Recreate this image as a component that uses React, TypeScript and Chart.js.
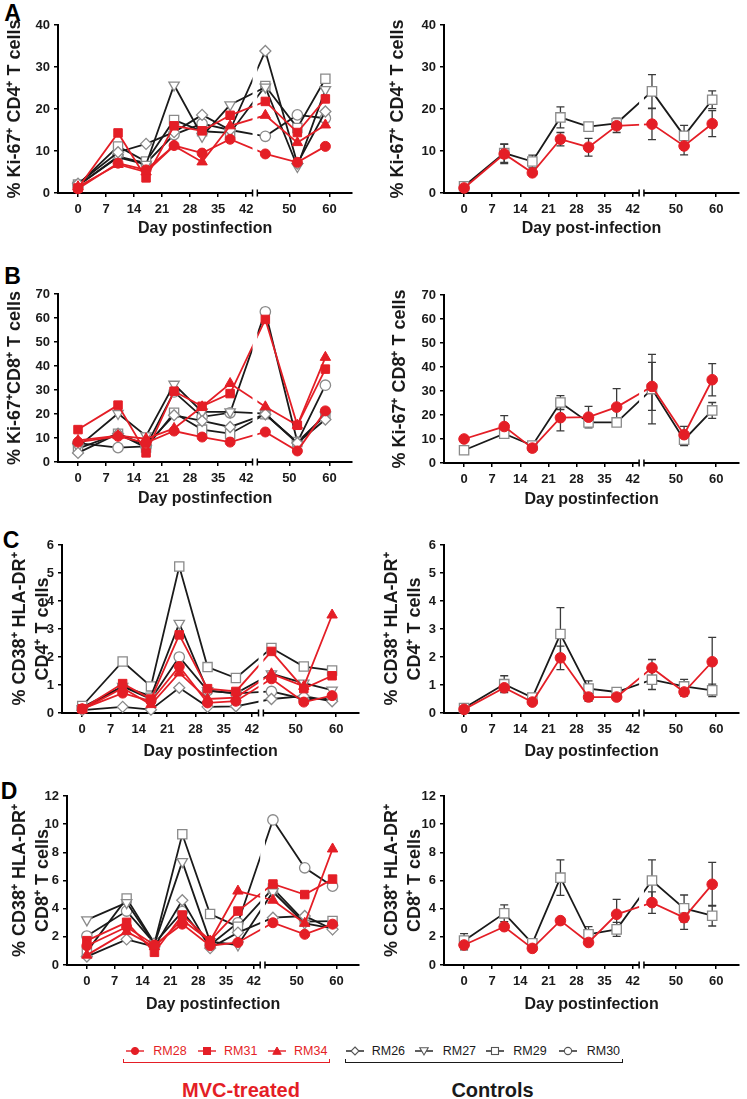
import React, { useEffect, useRef } from 'react';
import { Chart, registerables } from 'chart.js';

Chart.register(...registerables);

const FONT = "'Liberation Sans', Arial, Helvetica, sans-serif";
Chart.defaults.font.family = FONT;

const RED = '#e41e26';
const BLACK = '#1a1a1a';
const OPEN = '#8a8a8a';

// ---------------- data ----------------
const days = [0, 10, 17, 24, 31, 38, 44, 52, 59];
const xTickDays = [0, 7, 14, 21, 28, 35, 42, 50, 60];
const xTickLabels = ['0', '7', '14', '21', '28', '35', '42', '50', '60'];

// Panel A: % Ki-67+ CD4+ T cells
const aRM28 = [1.0, 7.1, 5.5, 11.3, 9.5, 12.8, 9.3, 7.3, 11.1];
const aRM31 = [1.2, 14.3, 3.6, 16.0, 14.8, 18.5, 21.8, 14.4, 22.4];
const aRM34 = [1.5, 6.8, 5.0, 11.2, 7.4, 16.0, 18.5, 12.0, 16.2];
const aRM26 = [2.2, 9.7, 11.7, 14.5, 18.6, 15.0, 33.8, 7.0, 19.4];
const aRM27 = [1.8, 8.5, 6.8, 25.7, 13.5, 21.0, 25.2, 6.3, 24.6];
const aRM29 = [2.0, 11.1, 7.5, 17.4, 14.7, 14.3, 25.5, 15.5, 27.2];
const aRM30 = [1.8, 8.7, 7.1, 13.9, 16.5, 15.0, 13.5, 18.6, 17.8];
const aMvcMean = [1.2, 9.3, 4.8, 12.8, 10.9, 16.0, 16.4, 11.2, 16.5];
const aMvcSem = [0.3, 2.3, 0.6, 1.6, 2.1, 1.6, 3.7, 2.1, 3.1];
const aCtrlMean = [1.6, 9.5, 7.5, 18.0, 15.8, 16.6, 24.2, 13.6, 22.2];
const aCtrlSem = [0.3, 2.2, 1.5, 2.5, 0.6, 1.2, 4.0, 2.5, 2.1];

// Panel B: % Ki-67+ CD8+ T cells
const bRM28 = [8.3, 10.7, 8.0, 12.9, 10.4, 8.3, 12.5, 4.6, 21.3];
const bRM31 = [13.5, 23.7, 3.8, 29.5, 23.2, 28.5, 59.4, 15.3, 38.7];
const bRM34 = [9.0, 11.0, 9.7, 14.0, 23.0, 32.7, 23.0, 15.3, 43.6];
const bRM26 = [3.8, 11.8, 7.0, 19.5, 17.1, 14.6, 19.9, 7.9, 17.7];
const bRM27 = [6.3, 20.2, 10.9, 32.4, 20.9, 20.9, 20.2, 7.9, 19.5];
const bRM29 = [5.6, 11.8, 6.0, 20.5, 13.5, 11.8, 19.9, 8.3, 19.5];
const bRM30 = [7.9, 6.0, 6.5, 29.2, 18.8, 20.5, 62.6, 8.3, 32.0];
const bMvcMean = [10.0, 15.2, 6.2, 18.9, 19.1, 23.3, 31.9, 11.8, 34.7];
const bMvcSem = [0.8, 4.5, 1.5, 5.5, 4.5, 7.7, 10.0, 3.5, 6.7];
const bCtrlMean = [5.3, 12.2, 7.3, 25.2, 16.9, 16.9, 30.8, 9.7, 21.9];
const bCtrlSem = [0.6, 1.5, 1.0, 2.9, 1.0, 1.2, 14.5, 2.5, 3.3];

// Panel C: % CD38+ HLA-DR+ CD4+ T cells
const cRM28 = [0.15, 0.71, 0.42, 1.66, 0.36, 0.42, 1.22, 0.39, 0.62];
const cRM31 = [0.15, 1.05, 0.5, 2.79, 0.87, 0.77, 2.2, 0.87, 1.33];
const cRM34 = [0.12, 0.89, 0.3, 1.43, 0.5, 0.55, 1.4, 0.95, 3.5];
const cRM26 = [0.1, 0.22, 0.12, 0.9, 0.22, 0.24, 0.5, 0.6, 0.42];
const cRM27 = [0.15, 0.95, 0.6, 3.2, 0.8, 0.7, 1.4, 1.07, 0.82];
const cRM29 = [0.25, 1.84, 0.95, 5.23, 1.64, 1.25, 2.32, 1.66, 1.52];
const cRM30 = [0.2, 0.95, 0.5, 2.0, 0.8, 0.7, 0.77, 0.5, 0.5];
const cMvcMean = [0.13, 0.9, 0.39, 1.97, 0.57, 0.57, 1.61, 0.75, 1.83];
const cMvcSem = [0.02, 0.1, 0.05, 0.42, 0.15, 0.1, 0.3, 0.15, 0.87];
const cCtrlMean = [0.18, 1.03, 0.55, 2.82, 0.87, 0.75, 1.19, 0.95, 0.81];
const cCtrlSem = [0.05, 0.3, 0.1, 0.94, 0.28, 0.15, 0.35, 0.25, 0.22];

// Panel D: % CD38+ HLA-DR+ CD8+ T cells
const dRM28 = [1.37, 2.7, 1.42, 2.9, 1.37, 1.6, 3.0, 2.18, 2.9];
const dRM31 = [1.73, 3.03, 0.9, 3.55, 1.73, 3.83, 5.75, 5.0, 6.1];
const dRM34 = [0.7, 2.37, 1.3, 3.2, 1.7, 5.25, 4.6, 2.96, 8.24];
const dRM26 = [0.6, 1.82, 1.3, 4.6, 1.2, 2.3, 3.36, 3.48, 2.53];
const dRM27 = [3.2, 4.43, 1.5, 7.34, 1.66, 1.42, 5.2, 2.96, 2.6];
const dRM29 = [0.95, 4.73, 1.54, 9.28, 3.62, 2.72, 5.44, 3.08, 3.12];
const dRM30 = [2.06, 3.83, 1.54, 3.79, 1.42, 3.0, 10.3, 6.9, 5.6];
const dMvcMean = [1.42, 2.72, 1.18, 3.15, 1.6, 3.6, 4.43, 3.36, 5.73];
const dMvcSem = [0.35, 0.1, 0.1, 0.1, 0.1, 1.06, 0.76, 0.83, 1.55];
const dCtrlMean = [1.73, 3.67, 1.54, 6.2, 2.18, 2.53, 6.0, 4.02, 3.5];
const dCtrlSem = [0.5, 0.6, 0.2, 1.26, 0.54, 0.5, 1.46, 0.95, 0.73];

const mvcAnimals = ['RM28', 'RM31', 'RM34'];
const controlAnimals = ['RM26', 'RM27', 'RM29', 'RM30'];

// ---------------- broken x axis ----------------
const BREAK_AT = 42;
const BREAK_SHIFT = 2.8;
const BREAK_L = 43.6;
const BREAK_R = 44.8;
const X_MIN = -5.0;
const X_MAX = 68.5;
const toAxis = (d: number) => (d > BREAK_AT ? d + BREAK_SHIFT : d);

// ---------------- styles ----------------
type Sty = { ps: string; r: number; rot: number; fill: string; stroke: string; bw: number; line: string };
const STYLES: Record<string, Sty> = {
  RM28: { ps: 'circle', r: 5, rot: 0, fill: RED, stroke: RED, bw: 1, line: RED },
  RM31: { ps: 'rect', r: 6, rot: 0, fill: RED, stroke: RED, bw: 1, line: RED },
  RM34: { ps: 'triangle', r: 6, rot: 0, fill: RED, stroke: RED, bw: 1, line: RED },
  RM26: { ps: 'rectRot', r: 5.5, rot: 0, fill: '#ffffff', stroke: OPEN, bw: 1.3, line: BLACK },
  RM27: { ps: 'triangle', r: 6, rot: 180, fill: '#ffffff', stroke: OPEN, bw: 1.3, line: BLACK },
  RM29: { ps: 'rect', r: 6.5, rot: 0, fill: '#ffffff', stroke: OPEN, bw: 1.3, line: BLACK },
  RM30: { ps: 'circle', r: 5.2, rot: 0, fill: '#ffffff', stroke: OPEN, bw: 1.3, line: BLACK },
  mvc: { ps: 'circle', r: 5.3, rot: 0, fill: RED, stroke: RED, bw: 1, line: RED },
  ctrl: { ps: 'rect', r: 6.6, rot: 0, fill: '#ffffff', stroke: OPEN, bw: 1.3, line: BLACK },
};

type Series = { label: string; style: string; values: number[]; errors?: number[] };

const individual = (...vals: number[][]): Series[] =>
  [...mvcAnimals, ...controlAnimals].map((name, i) => ({ label: name, style: name, values: vals[i] }));

const means = (mvc: number[], mvcE: number[], ctrl: number[], ctrlE: number[]): Series[] => [
  { label: 'MVC-treated', style: 'mvc', values: mvc, errors: mvcE },
  { label: 'Controls', style: 'ctrl', values: ctrl, errors: ctrlE },
];

type PanelDef = {
  id: string; base: number; axisX: number; right: number; top: number; bottom: number;
  yMax: number; yStep: number; yTitle: string[]; yTitlePad: number; xTitle: string; xTitleOffset: number;
  series: Series[];
};

const PAD_TOP = 12;
const PAD_RIGHT = 5;
const X_AXIS_H = 56;

const panels: PanelDef[] = [
  { id: 'A-left', base: 0, axisX: 58, right: 355, top: 25, bottom: 193, yMax: 40, yStep: 10,
    yTitle: ['% Ki-67⁺ CD4⁺ T cells'], yTitlePad: 3.3, xTitle: 'Day postinfection', xTitleOffset: 36,
    series: individual(aRM28, aRM31, aRM34, aRM26, aRM27, aRM29, aRM30) },
  { id: 'A-right', base: 370, axisX: 444, right: 742, top: 25, bottom: 193, yMax: 40, yStep: 10,
    yTitle: ['% Ki-67⁺ CD4⁺ T cells'], yTitlePad: 16.6, xTitle: 'Day post-infection', xTitleOffset: 36,
    series: means(aMvcMean, aMvcSem, aCtrlMean, aCtrlSem) },
  { id: 'B-left', base: 0, axisX: 58, right: 355, top: 294, bottom: 462, yMax: 70, yStep: 10,
    yTitle: ['% Ki-67⁺CD8⁺ T cells'], yTitlePad: 3.3, xTitle: 'Day postinfection', xTitleOffset: 37,
    series: individual(bRM28, bRM31, bRM34, bRM26, bRM27, bRM29, bRM30) },
  { id: 'B-right', base: 370, axisX: 444, right: 742, top: 295, bottom: 463, yMax: 70, yStep: 10,
    yTitle: ['% Ki-67⁺ CD8⁺ T cells'], yTitlePad: 18.3, xTitle: 'Day postinfection', xTitleOffset: 37,
    series: means(bMvcMean, bMvcSem, bCtrlMean, bCtrlSem) },
  { id: 'C-left', base: 0, axisX: 62, right: 362, top: 545, bottom: 713, yMax: 6, yStep: 1,
    yTitle: ['% CD38⁺ HLA-DR⁺', 'CD4⁺ T cells'], yTitlePad: 8.3, xTitle: 'Day postinfection', xTitleOffset: 38.5,
    series: individual(cRM28, cRM31, cRM34, cRM26, cRM27, cRM29, cRM30) },
  { id: 'C-right', base: 370, axisX: 444, right: 742, top: 545, bottom: 713, yMax: 6, yStep: 1,
    yTitle: ['% CD38⁺ HLA-DR⁺', 'CD4⁺ T cells'], yTitlePad: 10, xTitle: 'Day postinfection', xTitleOffset: 38.5,
    series: means(cMvcMean, cMvcSem, cCtrlMean, cCtrlSem) },
  { id: 'D-left', base: 0, axisX: 67, right: 362, top: 796, bottom: 965, yMax: 12, yStep: 2,
    yTitle: ['% CD38⁺ HLA-DR⁺', 'CD8⁺ T cells'], yTitlePad: 8.3, xTitle: 'Day postinfection', xTitleOffset: 40,
    series: individual(dRM28, dRM31, dRM34, dRM26, dRM27, dRM29, dRM30) },
  { id: 'D-right', base: 370, axisX: 444, right: 742, top: 796, bottom: 965, yMax: 12, yStep: 2,
    yTitle: ['% CD38⁺ HLA-DR⁺', 'CD8⁺ T cells'], yTitlePad: 10, xTitle: 'Day postinfection', xTitleOffset: 40,
    series: means(dMvcMean, dMvcSem, dCtrlMean, dCtrlSem) },
];

// ---------------- plugins ----------------
const errorBarPlugin = {
  id: 'errorBars',
  beforeDatasetsDraw(chart: any) {
    const { ctx, scales } = chart;
    const xs = scales.x;
    const ys = scales.y;
    ctx.save();
    ctx.strokeStyle = '#3a3a3a';
    ctx.lineWidth = 1.3;
    chart.data.datasets.forEach((ds: any) => {
      const errs: number[] | undefined = ds.errorBars;
      if (!errs) return;
      ds.data.forEach((pt: any, i: number) => {
        const e = errs[i];
        if (!e) return;
        const px = xs.getPixelForValue(pt.x);
        const y1 = ys.getPixelForValue(pt.y + e);
        const y2 = ys.getPixelForValue(Math.max(pt.y - e, 0));
        ctx.beginPath();
        ctx.moveTo(px, y1);
        ctx.lineTo(px, y2);
        ctx.moveTo(px - 4, y1);
        ctx.lineTo(px + 4, y1);
        ctx.moveTo(px - 4, y2);
        ctx.lineTo(px + 4, y2);
        ctx.stroke();
      });
    });
    ctx.restore();
  },
};

const axisBreakPlugin = {
  id: 'axisBreak',
  afterDatasetsDraw(chart: any) {
    const { ctx, chartArea, scales } = chart;
    const xs = scales.x;
    const x1 = xs.getPixelForValue(BREAK_L);
    const x2 = xs.getPixelForValue(BREAK_R);
    ctx.save();
    ctx.fillStyle = '#ffffff';
    ctx.fillRect(x1, chartArea.top - 12, x2 - x1, chartArea.bottom - chartArea.top + 13.6);
    ctx.strokeStyle = '#000000';
    ctx.lineWidth = 1.5;
    ctx.beginPath();
    [x1, x2].forEach((px) => {
      ctx.moveTo(px, chartArea.bottom - 3.5);
      ctx.lineTo(px, chartArea.bottom + 3.5);
    });
    ctx.stroke();
    ctx.restore();
  },
};

function buildConfig(p: PanelDef): any {
  const datasets = p.series.map((s) => {
    const st = STYLES[s.style];
    return {
      label: s.label,
      data: days.map((d, i) => ({ x: toAxis(d), y: s.values[i] })),
      borderColor: st.line,
      borderWidth: 1.8,
      pointStyle: st.ps,
      pointRadius: st.r,
      pointHoverRadius: st.r,
      pointRotation: st.rot,
      pointBackgroundColor: st.fill,
      pointBorderColor: st.stroke,
      pointBorderWidth: st.bw,
      fill: false,
      tension: 0,
      clip: false,
      errorBars: s.errors,
    };
  });
  const axisCommon = {
    grid: { display: true, drawOnChartArea: false, drawTicks: true, tickLength: 4, color: '#000', lineWidth: 1.5 },
    border: { display: true, color: '#000', width: 2 },
  };
  return {
    type: 'line',
    data: { datasets },
    plugins: [errorBarPlugin, axisBreakPlugin],
    options: {
      responsive: false,
      animation: false,
      devicePixelRatio: 1,
      layout: { padding: { top: PAD_TOP, right: PAD_RIGHT, left: 0, bottom: 0 } },
      plugins: { legend: { display: false }, tooltip: { enabled: false } },
      scales: {
        x: {
          type: 'linear',
          min: X_MIN,
          max: X_MAX,
          afterBuildTicks: (s: any) => {
            s.ticks = xTickDays.map((d) => ({ value: toAxis(d) }));
          },
          afterFit: (s: any) => {
            s.height = X_AXIS_H;
          },
          ticks: {
            autoSkip: false,
            maxRotation: 0,
            padding: 5,
            color: BLACK,
            font: { family: FONT, size: 13, weight: 'bold' },
            callback: (_v: any, i: number) => xTickLabels[i],
          },
          ...axisCommon,
          title: {
            display: true,
            text: p.xTitle,
            color: BLACK,
            font: { family: FONT, size: 16, weight: 'bold', lineHeight: 1.2 },
            padding: { top: 0, bottom: X_AXIS_H - 9.6 - p.xTitleOffset },
          },
        },
        y: {
          type: 'linear',
          min: 0,
          max: p.yMax,
          afterFit: (s: any) => {
            s.width = p.axisX - p.base;
          },
          ticks: {
            stepSize: p.yStep,
            padding: 4,
            color: BLACK,
            font: { family: FONT, size: 13, weight: 'bold' },
          },
          ...axisCommon,
          title: {
            display: true,
            text: p.yTitle,
            color: BLACK,
            font: { family: FONT, size: 18, weight: 'bold', lineHeight: 1.3 },
            padding: { top: p.yTitlePad, bottom: 0 },
          },
        },
      },
    },
  };
}

function Panel({ p }: { p: PanelDef }) {
  const ref = useRef<HTMLCanvasElement | null>(null);
  useEffect(() => {
    if (!ref.current) return;
    const chart = new Chart(ref.current, buildConfig(p));
    return () => chart.destroy();
  }, [p]);
  const left = p.base;
  const top = p.top - PAD_TOP;
  const width = p.right + PAD_RIGHT - p.base;
  const height = p.bottom + X_AXIS_H - top;
  return (
    <canvas
      ref={ref}
      width={width}
      height={height}
      style={{ position: 'absolute', left, top, width, height, display: 'block' }}
    />
  );
}

// ---------------- legend ----------------
const legendItems = [
  { name: 'RM28', cx: 135, tx: 153.3, group: 'mvc' },
  { name: 'RM31', cx: 206.7, tx: 224, group: 'mvc' },
  { name: 'RM34', cx: 277.3, tx: 294, group: 'mvc' },
  { name: 'RM26', cx: 355, tx: 371.7, group: 'ctrl' },
  { name: 'RM27', cx: 424, tx: 442.7, group: 'ctrl' },
  { name: 'RM29', cx: 495, tx: 513.3, group: 'ctrl' },
  { name: 'RM30', cx: 568.3, tx: 586.7, group: 'ctrl' },
];

function MarkerShape({ name }: { name: string }) {
  const red = name === 'RM28' || name === 'RM31' || name === 'RM34';
  const fill = red ? RED : '#ffffff';
  const stroke = red ? RED : '#555555';
  const sw = red ? 1 : 1.1;
  switch (name) {
    case 'RM28':
    case 'RM30':
      return <circle cx={9} cy={6} r={3.6} fill={fill} stroke={stroke} strokeWidth={sw} />;
    case 'RM31':
    case 'RM29':
      return <rect x={5.5} y={2.5} width={7} height={7} fill={fill} stroke={stroke} strokeWidth={sw} />;
    case 'RM34':
      return <polygon points="9,2 13.2,9.3 4.8,9.3" fill={fill} stroke={stroke} strokeWidth={sw} />;
    case 'RM26':
      return <polygon points="9,2 13,6 9,10 5,6" fill={fill} stroke={stroke} strokeWidth={sw} />;
    case 'RM27':
      return <polygon points="4.8,2.7 13.2,2.7 9,10" fill={fill} stroke={stroke} strokeWidth={sw} />;
    default:
      return null;
  }
}

const LEG_Y = 1051;

function Legend() {
  return (
    <>
      {legendItems.map((it) => {
        const color = it.group === 'mvc' ? RED : BLACK;
        return (
          <React.Fragment key={it.name}>
            <svg
              width={18}
              height={12}
              style={{ position: 'absolute', left: it.cx - 9, top: LEG_Y - 6, overflow: 'visible' }}
            >
              <line x1={0} y1={6} x2={18} y2={6} stroke={color} strokeWidth={1.4} />
              <MarkerShape name={it.name} />
            </svg>
            <div
              style={{
                position: 'absolute', left: it.tx, top: LEG_Y - 6.1, fontFamily: FONT, fontSize: 12.5,
                lineHeight: '12.5px', color, whiteSpace: 'nowrap',
              }}
            >
              {it.name}
            </div>
          </React.Fragment>
        );
      })}
      <div
        style={{
          position: 'absolute', left: 123, top: 1059, width: 207, height: 4, boxSizing: 'border-box',
          borderLeft: `1.5px solid ${RED}`, borderRight: `1.5px solid ${RED}`, borderBottom: `1.5px solid ${RED}`,
        }}
      />
      <div
        style={{
          position: 'absolute', left: 345, top: 1058.5, width: 278, height: 4, boxSizing: 'border-box',
          borderLeft: `1.5px solid ${BLACK}`, borderRight: `1.5px solid ${BLACK}`, borderBottom: `1.5px solid ${BLACK}`,
        }}
      />
      <div
        style={{
          position: 'absolute', left: 141, width: 200, top: 1080.2, textAlign: 'center', fontFamily: FONT,
          fontWeight: 'bold', fontSize: 20, lineHeight: '20px', color: RED, whiteSpace: 'nowrap',
        }}
      >
        MVC-treated
      </div>
      <div
        style={{
          position: 'absolute', left: 392.5, width: 200, top: 1080.2, textAlign: 'center', fontFamily: FONT,
          fontWeight: 'bold', fontSize: 20, lineHeight: '20px', color: BLACK, whiteSpace: 'nowrap',
        }}
      >
        Controls
      </div>
    </>
  );
}

const panelLetters = [
  { text: 'A', x: 12.5, y: 13 },
  { text: 'B', x: 12.5, y: 276 },
  { text: 'C', x: 11, y: 540 },
  { text: 'D', x: 9, y: 791 },
];

export default function App() {
  return (
    <div
      style={{
        position: 'absolute', left: 0, top: 0, width: 747, height: 1099, background: '#ffffff', overflow: 'hidden',
      }}
    >
      {panelLetters.map((l) => (
        <div
          key={l.text}
          style={{
            position: 'absolute', left: l.x - 8.3, top: l.y - 11.3, fontFamily: FONT, fontWeight: 'bold',
            fontSize: 23, lineHeight: '23px', color: '#000',
          }}
        >
          {l.text}
        </div>
      ))}
      {panels.map((p) => (
        <Panel key={p.id} p={p} />
      ))}
      <Legend />
    </div>
  );
}
